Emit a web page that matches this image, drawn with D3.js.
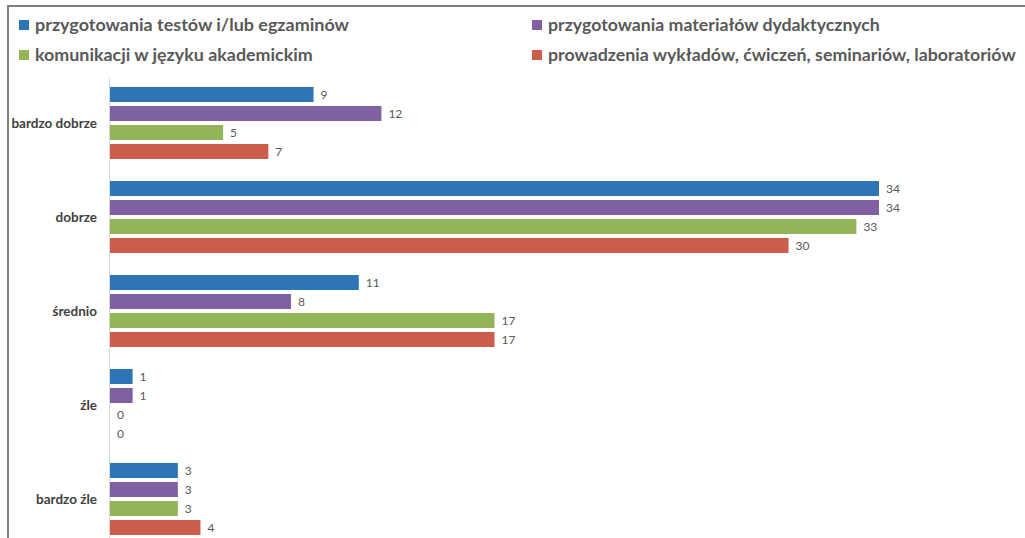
<!DOCTYPE html>
<html>
<head>
<meta charset="utf-8">
<script src="https://cdn.jsdelivr.net/npm/d3@7"></script>
<style>
  html, body { margin: 0; padding: 0; background: #fff; }
  svg { display: block; }
</style>
</head>
<body>
<svg id="chart" width="1025" height="538"></svg>
<script>
// ---- data ----
const categories = ["bardzo dobrze", "dobrze", "średnio", "źle", "bardzo źle"];
const seriesNames = [
  "przygotowania testów i/lub egzaminów",
  "przygotowania materiałów dydaktycznych",
  "komunikacji w języku akademickim",
  "prowadzenia wykładów, ćwiczeń, seminariów, laboratoriów"
];
const testy      = [9, 34, 11, 1, 3];
const materialy  = [12, 34, 8, 1, 3];
const komunikacja = [5, 33, 17, 0, 3];
const prowadzenie = [7, 30, 17, 0, 4];
const seriesValues = [testy, materialy, komunikacja, prowadzenie];
const colors = ["#2e75b6", "#7f60a0", "#93b557", "#cc5c4b"];

// ---- layout ----
const W = 1025, H = 538;
const svg = d3.select("#chart");
const font = "Lato, 'Open Sans', 'DejaVu Sans', sans-serif";

// frame
svg.append("line").attr("x1", 8).attr("x2", W).attr("y1", 6).attr("y2", 6)
  .attr("stroke", "#7f7f7f").attr("stroke-width", 2);
svg.append("line").attr("x1", 8).attr("x2", 8).attr("y1", 5).attr("y2", H)
  .attr("stroke", "#7f7f7f").attr("stroke-width", 2);

const x = d3.scaleLinear().domain([0, 34]).range([110, 879]);
const y0 = d3.scaleBand().domain(categories).range([76, 546]).paddingInner(0).paddingOuter(0);
const y1 = d3.scaleBand().domain(d3.range(seriesNames.length)).range([0, y0.bandwidth()])
  .paddingInner(0.21).paddingOuter(0.579);

// axis line
const yAxis = d3.axisLeft(y0).tickSize(0).tickFormat("");
const axG = svg.append("g").attr("transform", `translate(${x(0) - 0.5},0)`).call(yAxis);
axG.select(".domain").attr("stroke", "#d9d9d9").attr("d", `M0,78V${H}`);

// category labels
svg.append("g").selectAll("text").data(categories).join("text")
  .attr("x", 97).attr("y", d => y0(d) + y0.bandwidth() / 2)
  .attr("text-anchor", "end").attr("dominant-baseline", "central")
  .attr("font-family", font).attr("font-weight", 700).attr("font-size", 13.5)
  .attr("fill", "#404040").text(d => d);

// bars
const rows = [];
categories.forEach((c, ci) => seriesValues.forEach((vals, si) => rows.push({ c, si, v: vals[ci] })));
const g = svg.append("g");
g.selectAll("rect").data(rows).join("rect")
  .attr("x", x(0))
  .attr("y", d => y0(d.c) + y1(d.si))
  .attr("width", d => x(d.v) - x(0))
  .attr("height", y1.bandwidth())
  .attr("fill", d => colors[d.si]);

g.selectAll("text").data(rows).join("text")
  .attr("x", d => x(d.v) + 7)
  .attr("y", d => y0(d.c) + y1(d.si) + y1.bandwidth() / 2)
  .attr("dominant-baseline", "central")
  .attr("font-family", font).attr("font-size", 12)
  .attr("fill", "#595959").text(d => d.v);

// legend
const legendPos = [
  { x: 19, y: 20, w: 314 },
  { x: 532, y: 20, w: 332 },
  { x: 19, y: 50, w: 278 },
  { x: 532, y: 50, w: 468 }
];
const lg = svg.append("g");
seriesNames.forEach((name, i) => {
  const p = legendPos[i];
  lg.append("rect").attr("x", p.x).attr("y", p.y).attr("width", 10).attr("height", 10)
    .attr("fill", colors[i]);
  const base = 18.5;
  const t = lg.append("text").attr("x", p.x + 16).attr("y", p.y + 11)
    .attr("font-family", font).attr("font-weight", 700).attr("font-size", base)
    .attr("fill", "#595959").text(name);
  const natural = t.node().getComputedTextLength();
  if (natural > 0) t.attr("font-size", Math.min(base, base * p.w / natural));
});
</script>
</body>
</html>
